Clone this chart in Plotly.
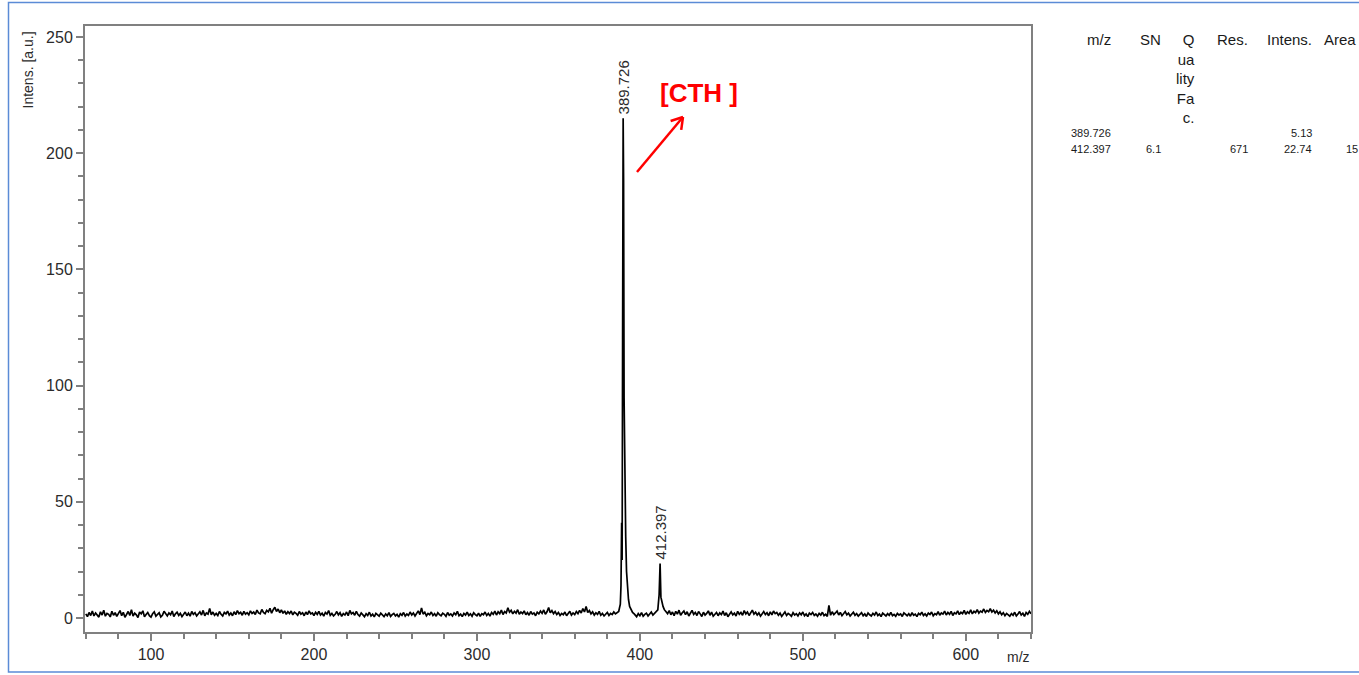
import math
import plotly.graph_objects as go

BASE_A_START = 60   # m/z 60 .. 385
BASE_A = [
    1.8, 0.6, 2.4, 1.1, 3.0, 0.9, 2.2, 1.5, 0.4, 2.7, 1.3, 3.4, 0.8, 2.0, 1.6, 0.5, 2.9, 1.2, 2.3, 0.7,
    1.9, 3.2, 1.0, 2.5, 0.3, 1.7, 2.8, 1.1, 3.6, 0.9, 2.1, 1.4, 0.2, 2.6, 1.8, 3.1, 0.6, 1.5, 2.4, 1.0,
    0.4, 1.9, 2.7, 0.8, 1.6, 2.3, 0.5, 1.2, 2.9, 1.7, 0.9, 2.2, 1.4, 3.0, 0.7, 1.8, 2.5, 1.1, 2.0, 0.6,
    1.5, 2.6, 1.0, 2.1, 0.8, 2.8, 1.6, 2.3, 0.9, 1.9, 2.7, 1.3, 3.3, 1.0, 2.2, 1.7, 4.1, 1.4, 2.6, 1.2,
    2.0, 1.1, 2.8, 1.6, 0.9, 2.4, 1.8, 3.0, 1.3, 2.2, 1.0, 2.7, 1.5, 3.2, 1.9, 2.5, 1.2, 2.9, 1.7, 2.3,
    1.4, 3.1, 2.0, 2.6, 1.5, 3.4, 2.2, 1.8, 3.7, 2.4, 1.9, 3.3, 2.7, 4.2, 2.1, 3.6, 4.6, 2.8, 3.9, 2.3,
    3.5, 2.0, 3.1, 1.6, 2.7, 1.9, 3.0, 1.4, 2.5, 2.0, 1.2, 2.8, 1.7, 2.3, 1.0, 2.6, 1.5, 3.1, 1.8, 2.2,
    1.1, 2.5, 1.6, 2.9, 1.3, 2.1, 0.8, 2.4, 1.7, 3.2, 1.2, 2.0, 0.9, 1.6, 2.8, 1.4, 2.3, 0.7, 1.9, 1.3,
    2.6, 1.0, 3.3, 1.8, 2.4, 1.2, 2.9, 1.5, 0.8, 2.2, 1.6, 0.6, 1.9, 1.1, 2.5, 0.9, 1.7, 0.5, 2.0, 1.3,
    0.8, 2.1, 1.4, 0.6, 1.8, 1.0, 2.3, 0.7, 1.5, 2.0, 0.9, 1.6, 0.4, 1.9, 1.2, 2.4, 0.8, 1.7, 1.1, 2.6,
    1.3, 2.2, 0.9, 1.8, 3.1, 1.5, 4.3, 1.7, 2.5, 1.0, 2.0, 1.4, 2.6, 1.1, 1.9, 0.8, 2.3, 1.5, 1.0, 2.1,
    1.6, 0.7, 2.4, 1.2, 1.8, 0.9, 2.2, 1.4, 2.9, 1.0, 1.7, 0.6, 2.0, 1.3, 2.5, 1.1, 1.8, 0.8, 2.3, 1.5,
    1.0, 2.1, 0.7, 1.9, 1.4, 2.6, 1.1, 2.0, 0.8, 2.4, 1.6, 3.0, 1.3, 2.7, 1.9, 3.4, 1.5, 2.8, 2.2, 4.4,
    2.5, 3.3, 1.8, 2.9, 2.1, 3.6, 1.6, 2.6, 1.9, 3.1, 1.4, 2.4, 1.2, 2.8, 1.7, 2.2, 1.0, 2.5, 1.8, 3.0,
    2.0, 3.5, 1.6, 2.7, 4.5, 2.3, 3.2, 1.9, 2.8, 1.5, 2.4, 1.1, 2.0, 1.4, 2.6, 1.0, 1.8, 2.9, 1.3, 2.2,
    1.5, 2.8, 1.9, 3.3, 2.2, 4.1, 2.6, 5.0, 2.4, 3.2, 1.8, 2.7, 1.3, 2.3, 1.6, 2.9, 1.2, 2.0, 0.9, 1.7,
    2.4, 1.1, 2.0, 1.5, 2.6, 1.8,
]
BASE_B_START = 397  # m/z 397 .. 409
BASE_B = [1.2, 0.6, 1.9, 1.0, 2.3, 0.8, 1.6, 2.1, 0.9, 1.7, 2.6, 1.3, 2.0]
BASE_C_START = 417  # m/z 417 .. 640
BASE_C = [
    1.9, 3.2, 1.4, 2.6, 1.0, 2.9, 1.7, 3.4, 1.2, 2.3, 3.0, 1.5, 2.7, 0.9, 2.1, 3.3, 1.6, 2.4, 1.1, 2.8,
    1.8, 0.7, 2.5, 1.3, 2.0, 3.1, 1.2, 2.6, 0.8, 1.9, 2.4, 1.0, 2.2, 1.5, 3.0, 1.1, 2.3, 0.6, 1.8, 2.7,
    1.4, 2.1, 0.9, 2.9, 1.6, 2.4, 1.2, 3.2, 1.8, 2.6, 1.1, 2.0, 3.4, 1.7, 2.5, 1.3, 2.2, 0.8, 1.9, 2.8,
    1.5, 2.3, 1.0, 2.7, 1.4, 3.0, 1.9, 2.4, 1.2, 2.1, 0.7, 1.8, 2.6, 1.1, 2.0, 1.5, 0.8, 2.3, 1.3, 1.9,
    0.9, 2.2, 1.4, 2.6, 1.0, 1.8, 0.6, 2.1, 1.5, 2.4, 1.1, 1.7, 0.8, 2.0, 1.3, 2.5, 1.0, 1.6, 0.7, 5.4,
    1.2, 2.7, 1.5, 2.2, 3.0, 1.3, 2.4, 1.0, 1.9, 2.8, 1.4, 2.1, 0.9, 1.7, 2.5, 1.2, 1.9, 0.8, 1.6, 2.3,
    1.0, 1.8, 0.7, 2.2, 1.4, 0.9, 2.0, 1.3, 2.6, 1.1, 1.7, 0.6, 2.1, 1.5, 0.9, 1.9, 1.2, 2.4, 1.0, 1.6,
    0.8, 2.0, 1.3, 1.8, 0.7, 2.2, 1.4, 1.0, 1.9, 0.8, 2.3, 1.2, 1.7, 0.6, 2.0, 1.4, 2.5, 1.1, 1.8, 0.9,
    2.1, 1.5, 2.6, 1.0, 1.9, 1.4, 2.8, 1.2, 2.2, 1.7, 3.0, 1.3, 2.4, 1.6, 2.9, 1.1, 2.3, 1.8, 3.1, 1.5,
    2.5, 1.9, 3.3, 1.6, 2.7, 2.0, 3.5, 1.8, 2.9, 2.3, 3.6, 2.1, 3.0, 2.5, 3.9, 2.4, 3.3, 2.7, 4.0, 2.6,
    3.4, 2.2, 3.1, 1.8, 2.7, 1.4, 2.3, 1.0, 2.0, 1.5, 0.8, 1.9, 1.2, 2.5, 0.9, 1.7, 2.8, 1.3, 2.1, 0.7,
    2.4, 1.6, 2.9, 1.8,
]

# Peak profiles
PEAK1_MZ = [386, 387, 388, 388.4, 388.8, 389.1, 389.4, 389.726, 390.0, 390.3, 390.6, 390.9,
            391.3, 391.8, 392.4, 393.0, 393.7, 394.5, 395.5, 396.5]
PEAK1_I = [2.2, 2.8, 6.0, 14.0, 41.0, 25.0, 120.0, 215.0, 188.0, 95.0, 66.0, 52.0,
           35.0, 20.0, 12.0, 8.0, 5.0, 3.5, 2.4, 1.8]
PEAK2_MZ = [410, 411, 411.8, 412.397, 412.9, 413.5, 414.2, 415, 416]
PEAK2_I = [2.4, 3.5, 10.0, 23.5, 9.0, 6.5, 5.0, 3.6, 2.8]

# Labelled peaks
LABEL_MZ = [389.726, 412.397]
LABEL_TEXT = ["389.726", "412.397"]

# Peak list table
TABLE_HEAD = ["m/z", "SN", "Q<br>ua<br>lity<br>Fa<br>c.", "Res.", "Intens.", "Area"]
TABLE_ROWS = [
    ["389.726", "", "", "", "5.13", ""],
    ["412.397", "6.1", "", "671", "22.74", "15"],
]

X_TICKS = [100, 200, 300, 400, 500, 600]
Y_TICKS = [0, 50, 100, 150, 200, 250]

# Assemble the trace
segments = [
    (list(range(BASE_A_START, BASE_A_START + len(BASE_A))), BASE_A),
    (PEAK1_MZ, PEAK1_I),
    (list(range(BASE_B_START, BASE_B_START + len(BASE_B))), BASE_B),
    (PEAK2_MZ, PEAK2_I),
    (list(range(BASE_C_START, BASE_C_START + len(BASE_C))), BASE_C),
]
mz, inten = [], []
for xs, ys in segments:
    mz.extend(xs)
    inten.extend(ys)

W, H = 1359, 675
L, R, T, B = 85, 1031, 26, 632  # plot-area edges in pixels


def px(x):
    return (x - L) / (R - L)


def py(y):
    return (B - y) / (B - T)


FONT = "Arial, Liberation Sans, sans-serif"
AX_COL = "#808080"

fig = go.Figure()
fig.add_trace(go.Scatter(x=mz, y=inten, mode="lines",
                         line=dict(color="#000000", width=1.7), hoverinfo="skip"))

annotations = []
peak_height = {m: i for m, i in zip(PEAK1_MZ + PEAK2_MZ, PEAK1_I + PEAK2_I)}
for m, t in zip(LABEL_MZ, LABEL_TEXT):
    annotations.append(dict(x=m, y=peak_height[m], xref="x", yref="y", text=t,
                            textangle=-90, showarrow=False, xanchor="center",
                            yanchor="bottom", yshift=2,
                            font=dict(family=FONT, size=15, color="#2b2b2b")))

# Axis titles
annotations.append(dict(x=px(28), y=py(30), xref="paper", yref="paper",
                        text="Intens. [a.u.]", textangle=-90, showarrow=False,
                        xanchor="center", yanchor="top",
                        font=dict(family=FONT, size=14, color="#2b2b2b")))
annotations.append(dict(x=px(1032), y=py(657), xref="paper", yref="paper",
                        text="m/z", showarrow=False, xanchor="right", yanchor="middle",
                        font=dict(family=FONT, size=14, color="#2b2b2b")))

# Compound label
annotations.append(dict(x=px(658), y=py(93), xref="paper", yref="paper",
                        text="<b>[CTH ]</b>", showarrow=False, xanchor="left",
                        yanchor="middle", font=dict(family=FONT, size=26, color="#ff0000")))

# Peak table on the right
col_right = [1113, 1163, 1197, 1250, 1314, 1358]
for c, h in enumerate(TABLE_HEAD):
    annotations.append(dict(x=px(col_right[c]), y=py(29), xref="paper", yref="paper",
                            text=h, showarrow=False, xanchor="right", yanchor="top",
                            align="right",
                            font=dict(family=FONT, size=15, color="#1a1a1a")))
row_y = [133, 149]
for r, row in enumerate(TABLE_ROWS):
    for c, v in enumerate(row):
        if not v:
            continue
        if c == 5:
            annotations.append(dict(x=px(1344), y=py(row_y[r]), xref="paper", yref="paper",
                                    text=v, showarrow=False, xanchor="left",
                                    yanchor="middle",
                                    font=dict(family=FONT, size=11, color="#1a1a1a")))
        else:
            annotations.append(dict(x=px(col_right[c]), y=py(row_y[r]), xref="paper",
                                    yref="paper", text=v, showarrow=False,
                                    xanchor="right", yanchor="middle",
                                    font=dict(family=FONT, size=11, color="#1a1a1a")))

# Red arrow pointing to the label
shapes = []
tail = (637, 172)
tip = (683, 117)
shapes.append(dict(type="line", xref="paper", yref="paper",
                   x0=px(tail[0]), y0=py(tail[1]), x1=px(tip[0]), y1=py(tip[1]),
                   line=dict(color="#ff0000", width=2.5)))
dx, dy = tail[0] - tip[0], tail[1] - tip[1]
n = math.hypot(dx, dy)
dx, dy = dx / n, dy / n
for ang in (math.radians(32), math.radians(-32)):
    hx = dx * math.cos(ang) - dy * math.sin(ang)
    hy = dx * math.sin(ang) + dy * math.cos(ang)
    shapes.append(dict(type="line", xref="paper", yref="paper",
                       x0=px(tip[0]), y0=py(tip[1]),
                       x1=px(tip[0] + 13 * hx), y1=py(tip[1] + 13 * hy),
                       line=dict(color="#ff0000", width=2.5)))

# Slide border
shapes.append(dict(type="rect", xref="paper", yref="paper",
                   x0=px(8.5), y0=py(2.5), x1=px(1370), y1=py(672),
                   line=dict(color="#5b8bd6", width=1.5), layer="below"))

fig.update_layout(
    width=W, height=H,
    margin=dict(l=L, r=W - R, t=T, b=H - B, pad=0),
    paper_bgcolor="#ffffff", plot_bgcolor="#ffffff",
    showlegend=False,
    annotations=annotations,
    shapes=shapes,
    xaxis=dict(range=[59.5, 640], tickvals=X_TICKS, ticks="outside", ticklen=7,
               tickwidth=1.5, tickcolor=AX_COL, showline=True, linecolor=AX_COL,
               linewidth=2, mirror=True, showgrid=False, zeroline=False,
               minor=dict(dtick=20, tick0=0, ticks="outside", ticklen=5,
                          tickcolor=AX_COL, tickwidth=1.5, showgrid=False),
               tickfont=dict(family=FONT, size=16, color="#2b2b2b")),
    yaxis=dict(range=[-6, 254.7], tickvals=Y_TICKS, ticks="outside", ticklen=7,
               tickwidth=1.5, tickcolor=AX_COL, showline=True, linecolor=AX_COL,
               linewidth=2, mirror=True, showgrid=False, zeroline=False,
               minor=dict(dtick=10, tick0=0, ticks="outside", ticklen=5,
                          tickcolor=AX_COL, tickwidth=1.5, showgrid=False),
               tickfont=dict(family=FONT, size=16, color="#2b2b2b")),
)

fig.write_html("out.html")
